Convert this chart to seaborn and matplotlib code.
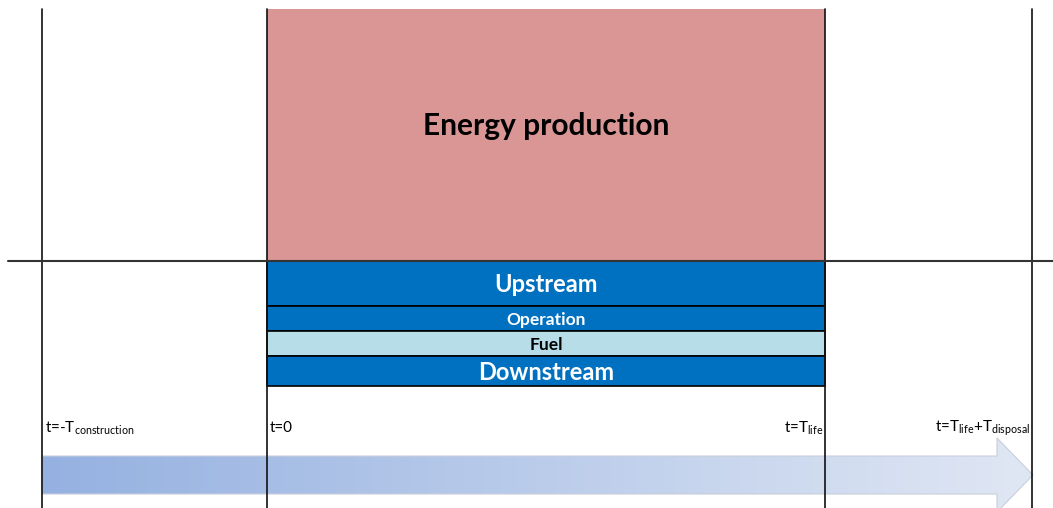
import numpy as np
import matplotlib
matplotlib.use("Agg")
import matplotlib.pyplot as plt
import seaborn as sns
import pandas as pd
from matplotlib.patches import Polygon

sns.set_style("white")
plt.rcParams['font.family'] = ['Lato', 'DejaVu Sans']
plt.rcParams['mathtext.fontset'] = 'custom'
plt.rcParams['mathtext.rm'] = 'Lato'
plt.rcParams['mathtext.it'] = 'Lato'

# ---- data ----
T_construction = 225
T_life = 558
T_disposal = 207
phase_times = [-T_construction, 0, T_life, T_life + T_disposal]
time_labels = [r"t=-T$_{\mathrm{construction}}$", "t=0", r"t=T$_{\mathrm{life}}$",
               r"t=T$_{\mathrm{life}}$+T$_{\mathrm{disposal}}$"]

positive_names = ["Energy production"]
positive_values = [252]
negative_names = ["Upstream", "Operation", "Fuel", "Downstream"]
negative_values = [45, 25, 25, 30]

colors_neg = ["#0070C0", "#0070C0", "#B7DEE8", "#0070C0"]
text_colors_neg = ["white", "white", "black", "white"]
font_sizes_neg = [17, 12.5, 12.5, 17]

fig = plt.figure(figsize=(10.53, 5.08), dpi=100)
ax = fig.add_axes([0, 0, 1, 1])
ax.set_xlim(-267, 786)
ax.set_ylim(-247, 261)
ax.axis("off")

# energy production bar
ax.bar(0, positive_values[0], width=T_life, align="edge", color="#D99694",
       edgecolor="none", zorder=2)
ax.text(T_life / 2, positive_values[0] / 2 + 9, positive_names[0], ha="center",
        va="center", fontsize=21.5, fontweight="bold", color="black", zorder=5)

# negative stacked bars
bottom = 0
for name, val, c, tc, fs in zip(negative_names, negative_values, colors_neg,
                                text_colors_neg, font_sizes_neg):
    ax.bar(0, -val, width=T_life, bottom=bottom, align="edge", color=c,
           edgecolor="black", linewidth=1.2, zorder=2)
    ax.text(T_life / 2, bottom - val / 2 - 1, name, ha="center", va="center",
            fontsize=fs, fontweight="bold", color=tc, zorder=5)
    bottom -= val

# vertical phase lines
for t in phase_times:
    ax.plot([t, t], [positive_values[0], -247], color="#111111", lw=1.2, zorder=4)

# horizontal axis line
ax.plot([-259, 786], [0, 0], color="#333333", lw=1.5, zorder=4)

# time labels
ha_list = ["left", "left", "right", "right"]
offs = [3, 3, -1, -2]
for t, lab, ha, o in zip(phase_times, time_labels, ha_list, offs):
    ax.text(t + o, -167, lab, ha=ha, va="center", fontsize=11, color="black", zorder=5)

# gradient arrow
x0, xh, xt = -T_construction, 730, 766
ys_top, ys_bot = -195, -233
yh_top, yh_bot, ytip = -177, -251, -214
verts = [(x0, ys_top), (xh, ys_top), (xh, yh_top), (xt, ytip), (xh, yh_bot),
         (xh, ys_bot), (x0, ys_bot)]
poly = Polygon(verts, closed=True, facecolor="none", edgecolor="#c8cfdb",
               lw=0.8, zorder=3)
ax.add_patch(poly)
c_left = np.array([149, 177, 225]) / 255
c_right = np.array([224, 231, 244]) / 255
g = np.linspace(0, 1, 256)
grad = (c_left[None, :] * (1 - g[:, None]) + c_right[None, :] * g[:, None])[None, :, :]
im = ax.imshow(grad, extent=[x0, xt, yh_bot, yh_top], aspect="auto", zorder=2.5,
               interpolation="bilinear")
im.set_clip_path(poly)

fig.savefig("out.png", dpi=100)
